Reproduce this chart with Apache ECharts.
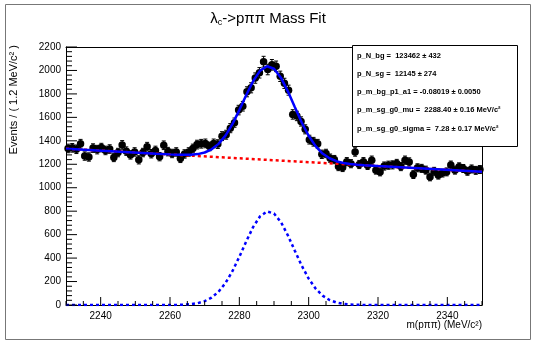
<!DOCTYPE html>
<html><head><meta charset="utf-8">
<script src="https://cdn.jsdelivr.net/npm/echarts@6/dist/echarts.min.js"></script>
<style>html,body{margin:0;padding:0;background:#fff}#c{width:536px;height:343px}</style>
</head><body><div id="c"></div>
<script>
// bin centres (MeV/c^2), 1.2 MeV bins
const binCenters = [2230.6,2231.8,2233.0,2234.2,2235.4,2236.6,2237.8,2239.0,2240.2,2241.4,2242.6,2243.8,2245.0,2246.2,2247.4,2248.6,2249.8,2251.0,2252.2,2253.4,2254.6,2255.8,2257.0,2258.2,2259.4,2260.6,2261.8,2263.0,2264.2,2265.4,2266.6,2267.8,2269.0,2270.2,2271.4,2272.6,2273.8,2275.0,2276.2,2277.4,2278.6,2279.8,2281.0,2282.2,2283.4,2284.6,2285.8,2287.0,2288.2,2289.4,2290.6,2291.8,2293.0,2294.2,2295.4,2296.6,2297.8,2299.0,2300.2,2301.4,2302.6,2303.8,2305.0,2306.2,2307.4,2308.6,2309.8,2311.0,2312.2,2313.4,2314.6,2315.8,2317.0,2318.2,2319.4,2320.6,2321.8,2323.0,2324.2,2325.4,2326.6,2327.8,2329.0,2330.2,2331.4,2332.6,2333.8,2335.0,2336.2,2337.4,2338.6,2339.8,2341.0,2342.2,2343.4,2344.6,2345.8,2347.0,2348.2,2349.4];
// events per bin
const counts = [1335,1340,1328,1375,1270,1262,1338,1325,1342,1318,1330,1258,1300,1365,1312,1280,1305,1238,1300,1350,1290,1318,1265,1362,1308,1292,1305,1250,1288,1305,1335,1368,1375,1378,1352,1378,1372,1440,1452,1508,1555,1662,1695,1818,1852,1935,1980,2075,2008,2048,2035,1950,1890,1832,1625,1612,1565,1498,1410,1392,1375,1285,1292,1252,1240,1180,1172,1222,1205,1305,1198,1222,1190,1235,1150,1135,1185,1192,1195,1207,1180,1235,1220,1112,1170,1165,1150,1092,1140,1107,1125,1135,1193,1150,1178,1164,1140,1160,1148,1155];
// fit curves sampled along the mass axis
const curveX = [2230,2256,2260,2262,2264,2266,2268,2270,2272,2274,2276,2278,2280,2282,2284,2286,2288,2290,2292,2294,2296,2298,2300,2302,2304,2306,2308,2310,2312,2314,2316,2320,2350];
const totalY = [1333.4,1290.6,1284.4,1281.8,1280.3,1281.1,1286.7,1300.4,1327.5,1374.0,1444.7,1542.4,1662.1,1790.8,1910.5,1998.2,2035.9,2014.6,1938.3,1822.0,1687.7,1556.4,1443.2,1354.9,1291.6,1251.3,1226.3,1211.5,1202.6,1196.7,1192.4,1185.3,1135.8];
const signalY = [0,0,0.4,1.1,2.9,7.0,15.8,32.8,63.2,113,187,288,411,543,666,757,798,780,707,594,463,335,225,140,80,43,21.3,9.8,4.2,1.6,0.6,0,0];
const bgX = [2230,2350];
const bgY = [1333.4,1135.8];
// axis tick labels and tick marks
const xTickLabels = [2240,2260,2280,2300,2320,2340];
const xMinorTicks = [2230,2235,2245,2250,2255,2265,2270,2275,2285,2290,2295,2305,2310,2315,2325,2330,2335,2345,2350];
const yTickLabels = [0,200,400,600,800,1000,1200,1400,1600,1800,2000,2200];
const yMinorTicks = [40,80,120,160,240,280,320,360,440,480,520,560,640,680,720,760,840,880,920,960,1040,1080,1120,1160,1240,1280,1320,1360,1440,1480,1520,1560,1640,1680,1720,1760,1840,1880,1920,1960,2040,2080,2120,2160];
// fit parameter box
const paramLines = [
  'p_N_bg =  123462 ± 432',
  'p_N_sg =  12145 ± 274',
  'p_m_bg_p1_a1 = -0.08019 ± 0.0050',
  'p_m_sg_g0_mu =  2288.40 ± 0.16 MeV/c²',
  'p_m_sg_g0_sigma =  7.28 ± 0.17 MeV/c²'
];

const FONT = '"Liberation Sans", Arial, Helvetica, sans-serif';
const chart = echarts.init(document.getElementById('c'), null, {renderer:'canvas'});

const pts = binCenters.map((x,i)=>[x, counts[i], Math.sqrt(counts[i])]);
const zip = (xs,ys)=>xs.map((x,i)=>[x,ys[i]]);

const paramTexts = paramLines.map((t,i)=>({
  type:'text', left:357, top:51.5 + i*18.3, z:21,
  style:{text:t, font:'bold 7.5px '+FONT, fill:'#000'}
}));

const blackLine = {show:true, onZero:false, lineStyle:{color:'#000', width:1}};

const staticGraphic = [
  {type:'rect', shape:{x:5.5,y:4.5,width:525,height:335}, style:{fill:'none', stroke:'#777', lineWidth:1}, z:-1},
  {type:'text', left:'center', top:11, z:10,
    style:{rich:{a:{fontSize:15, fontFamily:FONT, fill:'#000'}, s:{fontSize:9, fontFamily:FONT, fill:'#000', padding:[9,0,0,0]}},
      text:'{a|λ}{s|c}{a|->pππ Mass Fit}'}},
  {type:'text', x:14, y:45, rotation:Math.PI/2, z:10,
    style:{text:'Events / ( 1.2 MeV/c² )', font:'11px '+FONT, fill:'#000', align:'right', verticalAlign:'middle'}},
  {type:'text', right:54, top:320, z:10,
    style:{text:'m(pππ) (MeV/c²)', font:'10px '+FONT, fill:'#000'}},
  {type:'rect', shape:{x:352.5,y:45.5,width:165,height:101}, style:{fill:'#fff', stroke:'#000', lineWidth:1}, z:20},
  ...paramTexts
];

chart.setOption({
  animation:false,
  backgroundColor:'#fff',
  grid:{left:66, right:54, top:47, bottom:38, show:false, containLabel:false},
  xAxis:[{
    type:'value', min:2230, max:2350, interval:10, position:'bottom',
    axisLine:blackLine, axisTick:{show:false},
    axisLabel:{show:true, customValues:xTickLabels, color:'#000', fontSize:10, fontFamily:FONT, margin:6,
      formatter:v=>String(v)},
    splitLine:{show:false}
  },{
    type:'value', min:2230, max:2350, interval:10, position:'top', offset:0,
    axisLine:blackLine, axisTick:{show:false}, axisLabel:{show:false}, splitLine:{show:false}
  }],
  yAxis:[{
    type:'value', min:0, max:2200, interval:200, position:'left',
    axisLine:blackLine, axisTick:{show:false},
    axisLabel:{color:'#000', fontSize:10, fontFamily:FONT, margin:5,
      formatter:v=>yTickLabels.includes(v)?String(v):''},
    splitLine:{show:false}
  },{
    type:'value', min:0, max:2200, interval:200, position:'right', offset:0,
    axisLine:blackLine, axisTick:{show:false}, axisLabel:{show:false}, splitLine:{show:false}
  }],
  series:[
    {
      type:'custom', xAxisIndex:0, yAxisIndex:0, z:3,
      data:pts,
      renderItem:(params, api)=>{
        const x=api.value(0), y=api.value(1), e=api.value(2);
        const lo=api.coord([x,y-e]), hi=api.coord([x,y+e]);
        const st={stroke:'#000', lineWidth:1};
        return {type:'group', children:[
          {type:'line', shape:{x1:lo[0],y1:lo[1],x2:hi[0],y2:hi[1]}, style:st},
          {type:'line', shape:{x1:lo[0]-2,y1:lo[1],x2:lo[0]+2,y2:lo[1]}, style:st},
          {type:'line', shape:{x1:hi[0]-2,y1:hi[1],x2:hi[0]+2,y2:hi[1]}, style:st}
        ]};
      }
    },
    {
      type:'scatter', xAxisIndex:0, yAxisIndex:0, z:4, symbol:'circle', symbolSize:7.5,
      itemStyle:{color:'#000', opacity:1}, data:zip(binCenters,counts)
    },
    {
      type:'line', xAxisIndex:0, yAxisIndex:0, z:5, showSymbol:false, symbol:'none',
      data:zip(bgX,bgY),
      lineStyle:{color:'#ff0000', width:2.5, type:[3,3]}
    },
    {
      type:'line', xAxisIndex:0, yAxisIndex:0, z:6, showSymbol:false, symbol:'none',
      data:zip(curveX,signalY),
      lineStyle:{color:'#0000ff', width:2.5, type:[3,3]}
    },
    {
      type:'line', xAxisIndex:0, yAxisIndex:0, z:7, showSymbol:false, symbol:'none',
      data:zip(curveX,totalY),
      lineStyle:{color:'#0000ff', width:2.5}
    }
  ],
  graphic:staticGraphic
});

// tick marks positioned through the chart's own axis scales
const tickEls = [];
const addX = (v,len)=>{
  const p = chart.convertToPixel({gridIndex:0}, [v, 0]);
  tickEls.push({type:'line', z:30, shape:{x1:p[0],y1:p[1],x2:p[0],y2:p[1]-len}, style:{stroke:'#000', lineWidth:1}});
};
const addY = (v,len)=>{
  const p = chart.convertToPixel({gridIndex:0}, [2230, v]);
  tickEls.push({type:'line', z:30, shape:{x1:p[0],y1:p[1],x2:p[0]+len,y2:p[1]}, style:{stroke:'#000', lineWidth:1}});
};
xTickLabels.forEach(v=>addX(v,8));
xMinorTicks.forEach(v=>addX(v,4));
yTickLabels.forEach(v=>addY(v,11));
yMinorTicks.forEach(v=>addY(v,6));
chart.setOption({graphic: staticGraphic.concat(tickEls)}, {replaceMerge:['graphic']});
</script></body></html>
